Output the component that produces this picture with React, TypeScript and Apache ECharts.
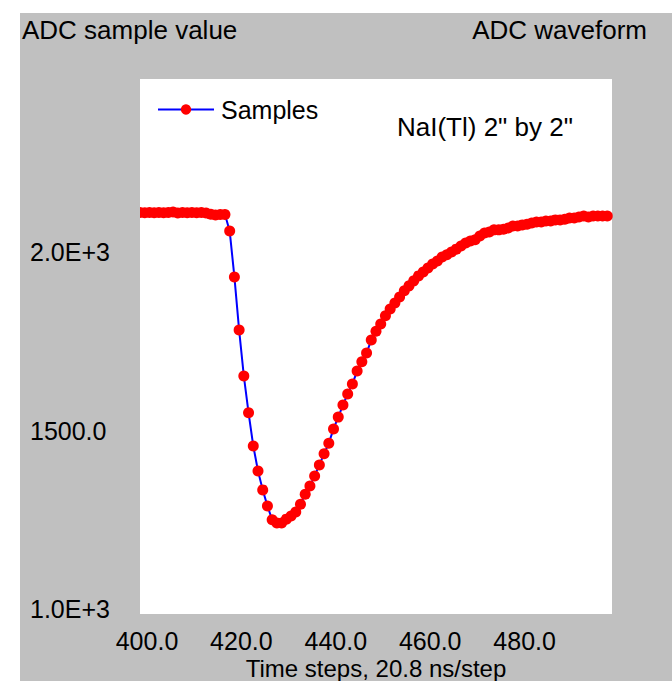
import React, { useEffect, useRef } from "react";
import * as echarts from "echarts";

const firstStep = 400;
const samples: number[] = [
  2126, 2125, 2126, 2125, 2126, 2125, 2126, 2127, 2124, 2126,
  2125, 2126, 2125, 2126, 2124, 2121, 2119, 2120, 2120,
  2074, 1945, 1796, 1667, 1564, 1471, 1401, 1348, 1303, 1264,
  1255, 1255, 1266, 1275, 1286, 1308, 1336, 1359, 1387, 1418,
  1449, 1479, 1519, 1552, 1586, 1617, 1645, 1681, 1707, 1732,
  1768, 1793, 1813, 1836, 1855, 1872, 1889, 1906, 1920, 1934,
  1948, 1959, 1970, 1981, 1990, 2001, 2007, 2015, 2023, 2032,
  2040, 2046, 2049, 2060, 2068, 2071, 2077, 2077, 2079, 2082,
  2088, 2088, 2091, 2093, 2096, 2099, 2099, 2102, 2102, 2105,
  2105, 2107, 2110, 2110, 2113, 2116, 2113, 2116, 2116, 2116,
  2116,
];
const yTickValues = [1000, 1500, 2000];
const yTickLabels = ["1.0E+3", "1500.0", "2.0E+3"];
const xTickValues = [400, 420, 440, 460, 480];
const xTickLabels = ["400.0", "420.0", "440.0", "460.0", "480.0"];

const FONT = "'Liberation Sans', Arial, sans-serif";
const FS = 25;
const FT = 26;

export default function App() {
  const ref = useRef<HTMLDivElement>(null);
  useEffect(() => {
    if (!ref.current) return;
    const chart = echarts.init(ref.current, undefined, { renderer: "svg" });
    const data = samples.map((v, i) => [firstStep + i, v]);
    chart.setOption({
      animation: false,
      backgroundColor: "transparent",
      textStyle: { fontFamily: FONT },
      graphic: [
        {
          type: "rect",
          z: -10,
          silent: true,
          shape: { x: 20, y: 13, width: 652, height: 668 },
          style: { fill: "#c0c0c0" },
        },
        {
          type: "rect",
          z: 50,
          silent: true,
          shape: { x: 126, y: 79, width: 14, height: 535 },
          style: { fill: "#c0c0c0" },
        },
        {
          type: "text",
          x: 22,
          y: 30,
          style: { text: "ADC sample value", fontSize: FT, fontFamily: FONT, fill: "#000", textAlign: "left", textVerticalAlign: "middle" },
        },
        {
          type: "text",
          x: 647,
          y: 30,
          style: { text: "ADC waveform", fontSize: FT, fontFamily: FONT, fill: "#000", textAlign: "right", textVerticalAlign: "middle" },
        },
        {
          type: "text",
          x: 397,
          y: 127,
          z: 10,
          style: { text: 'NaI(Tl) 2" by 2"', fontSize: FT, fontFamily: FONT, fill: "#000", textAlign: "left", textVerticalAlign: "middle" },
        },
        {
          type: "text",
          x: 376,
          y: 668,
          style: { text: "Time steps, 20.8 ns/step", fontSize: 24, fontFamily: FONT, fill: "#000", textAlign: "center", textVerticalAlign: "middle" },
        },
      ],
      legend: {
        left: 157,
        top: 97,
        padding: 0,
        itemWidth: 56,
        itemHeight: 13,
        textStyle: { fontSize: FS, fontFamily: FONT, color: "#000", padding: [0, 0, 0, 2] },
        data: ["Samples"],
      },
      grid: {
        left: 140,
        top: 79,
        width: 472,
        height: 535,
        show: true,
        backgroundColor: "#ffffff",
        borderWidth: 0,
      },
      xAxis: {
        type: "value",
        min: 400,
        max: 500,
        interval: 20,
        axisLine: { show: false },
        axisTick: { show: false },
        splitLine: { show: false },
        axisLabel: {
          showMaxLabel: false,
          fontSize: FS,
          fontFamily: FONT,
          color: "#000",
          margin: 27,
          verticalAlign: "middle",
          lineHeight: 20,
          padding: [0, 0, 0, 14],
          formatter: (v: number) => {
            const k = xTickValues.indexOf(v);
            return k >= 0 ? xTickLabels[k] : "";
          },
        },
      },
      yAxis: {
        type: "value",
        min: 1000,
        max: 2500,
        interval: 500,
        axisLine: { show: false },
        axisTick: { show: false },
        splitLine: { show: false },
        axisLabel: {
          showMaxLabel: false,
          fontSize: FS,
          fontFamily: FONT,
          color: "#000",
          align: "left",
          margin: 110,
          verticalAlign: "bottom",
          lineHeight: 10,
          formatter: (v: number) => {
            const k = yTickValues.indexOf(v);
            return k >= 0 ? yTickLabels[k] : "";
          },
        },
      },
      series: [
        {
          name: "Samples",
          type: "line",
          data,
          symbol: "circle",
          symbolSize: 11,
          showAllSymbol: true,
          clip: true,
          lineStyle: { color: "#0000ff", width: 2 },
          itemStyle: { color: "#ff0000" },
        },
      ],
    });
    return () => chart.dispose();
  }, []);
  return (
    <div
      ref={ref}
      style={{ position: "absolute", left: 0, top: 0, width: 672, height: 681 }}
    />
  );
}
